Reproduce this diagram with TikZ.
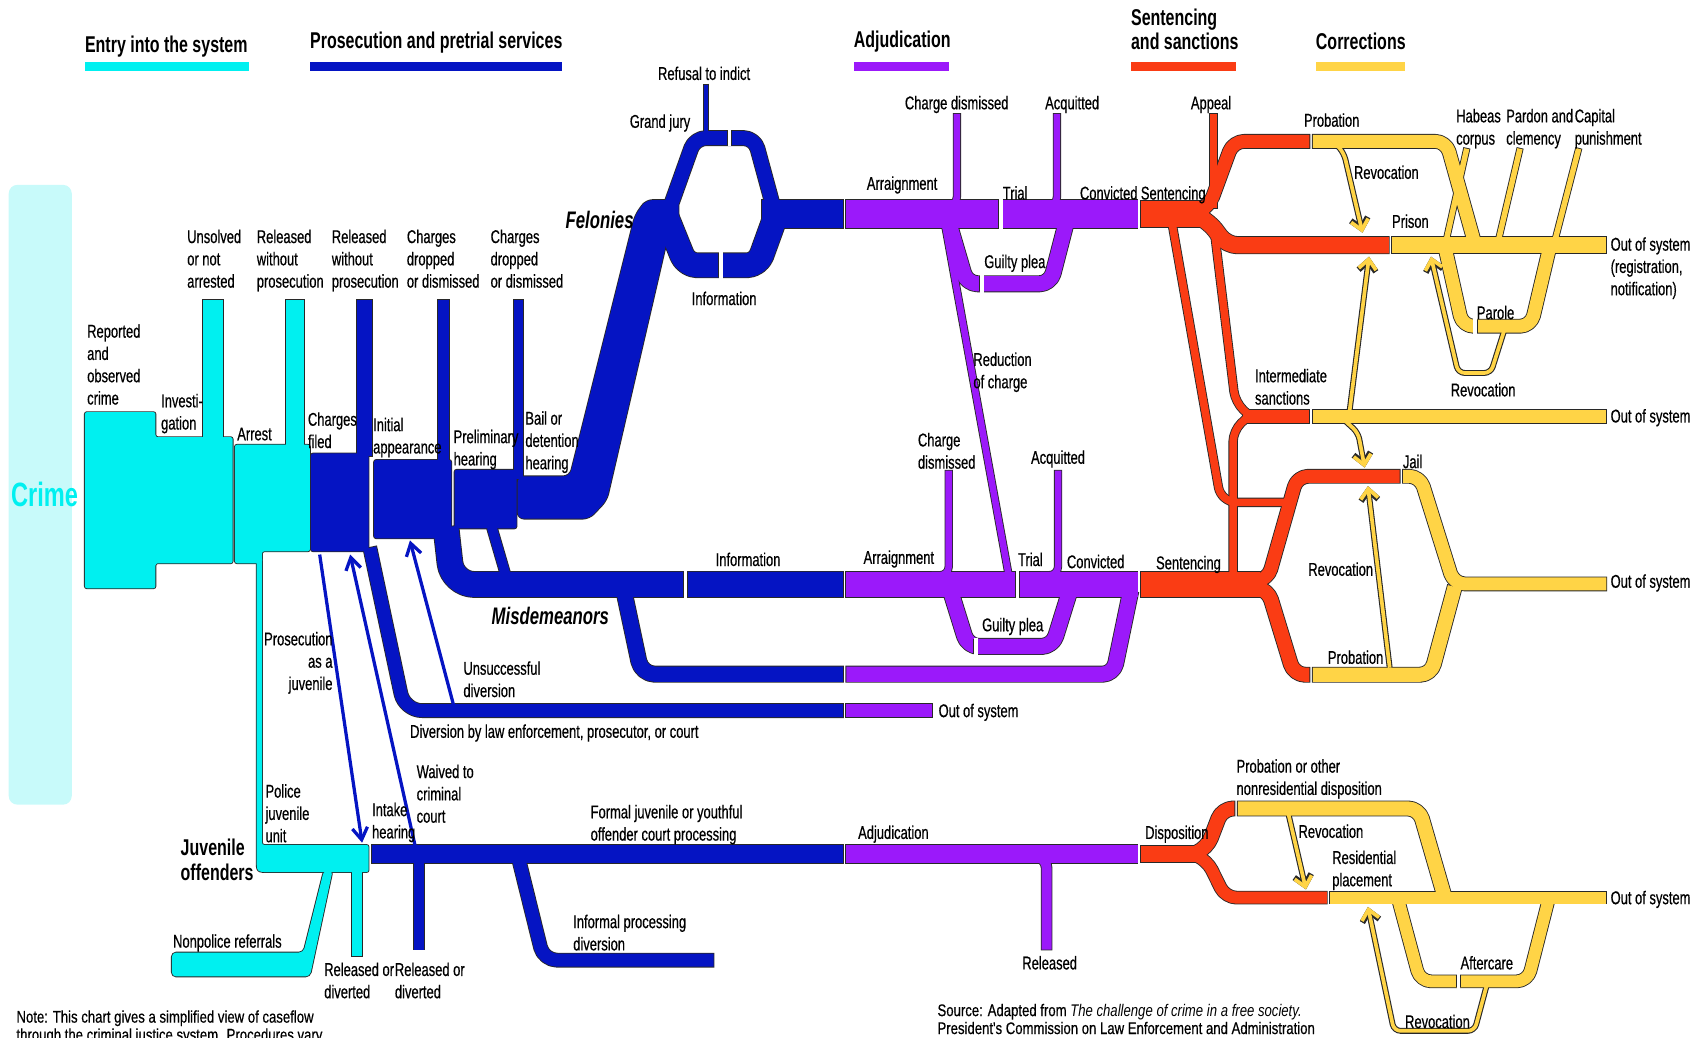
\documentclass[tikz,border=0pt]{standalone}
\usepackage{fontspec}
\setmainfont[FakeStretch=0.7, UprightFeatures={FakeBold=0.5}]{Liberation Sans}
\newfontfamily\notefont[FakeStretch=0.78, UprightFeatures={FakeBold=0.5}]{Liberation Sans}
\usetikzlibrary{arrows.meta}

\pgfdeclarelayer{background}
\pgfsetlayers{background,main}

\definecolor{entrycolor}{rgb}{0.000000, 0.941176, 0.941176}
\definecolor{crimecolor}{rgb}{0.784314, 0.980392, 0.980392}
\definecolor{prosecolor}{rgb}{0.019608, 0.078431, 0.764706}
\definecolor{adjucolor}{rgb}{0.607843, 0.098039, 0.980392}
\definecolor{sentcolor}{rgb}{0.980392, 0.235294, 0.078431}
\definecolor{corrcolor}{rgb}{1.000000, 0.831373, 0.274510}
\definecolor{rimcolor}{rgb}{0.156863, 0.156863, 0.156863}

\tikzset{
  lbl/.style={anchor=north west, inner sep=0pt, align=left, font=\fontsize{17}{20.5}\selectfont},
  head/.style={anchor=west, inner sep=0pt, align=left, font=\fontsize{21}{22}\selectfont\bfseries},
  group/.style={anchor=west, inner sep=0pt, align=left, font=\fontsize{22}{23}\selectfont\bfseries\itshape},
  note/.style={anchor=north west, inner sep=0pt, align=left, font=\notefont\fontsize{15.5}{16.5}\selectfont},
  jarrow/.style={prosecolor, line width=3pt, -{Straight Barb[length=11pt,width=14pt]}}
}

% band: outline on the background layer, colour on top
\newcommand{\flowband}[4][10]{%
  \begin{pgfonlayer}{background}
    \draw[rimcolor, line width=#3pt+1.6pt, rounded corners=#1, line join=round] #4;
  \end{pgfonlayer}
  \draw[#2, line width=#3pt, rounded corners=#1, line join=round, shorten <=0.8pt, shorten >=0.8pt] #4;}
\newcommand{\flowblock}[3][2]{%
  \begin{pgfonlayer}{background}
    \filldraw[rimcolor, line width=1.6pt, rounded corners=#1] #3;
  \end{pgfonlayer}
  \fill[#2, rounded corners=#1] #3;}
\newcommand{\revarrow}[1]{%
  \begin{pgfonlayer}{background}
    \draw[rimcolor, line width=5.4pt, rounded corners=6, -{Straight Barb[length=9pt,width=16pt]}] #1;
  \end{pgfonlayer}
  \draw[corrcolor, line width=3.4pt, rounded corners=6, -{Straight Barb[length=9pt,width=16pt]}] #1;}
\newcommand{\bandgap}[3]{%
  \draw[rimcolor, line width=4.6pt] (#1,#2) -- (#1,#3);
  \draw[white, line width=3pt] (#1,#2-1.2) -- (#1,#3+1.2);}

\begin{document}
\begin{tikzpicture}[x=1pt,y=-1pt]
\useasboundingbox (0,0) rectangle (1568,954);
\clip (0,0) rectangle (1568,954);

% legend
\node[head] (legentry) at (78,43) {Entry into the system};
\fill[entrycolor] (78,57) rectangle (229,65);
\node[head] (legpros) at (285,39) {Prosecution and pretrial services};
\fill[prosecolor] (285,57) rectangle (517,65);
\node[head] (legadj) at (785,38) {Adjudication};
\fill[adjucolor] (785,57) rectangle (873,65);
\node[head] (legsent) at (1040,27) {Sentencing\\and sanctions};
\fill[sentcolor] (1040,57) rectangle (1137,65);
\node[head] (legcorr) at (1210,38) {Corrections};
\fill[corrcolor] (1210,57) rectangle (1292,65);

% crime
\fill[crimecolor, rounded corners=8] (8,170) rectangle (66,740);
\node[anchor=west, inner sep=0pt, font=\fontsize{31}{31}\selectfont\bfseries, text=entrycolor] (crime) at (10,455) {Crime};

% entry into the system
\flowband{entrycolor}{18}{(196,275) -- (196,406)}
\flowband{entrycolor}{17}{(271.5,275) -- (271.5,412)}
\flowblock{entrycolor}{(78,379) -- (143,379) -- (143,402) -- (214,402) -- (214,518) -- (143,518) -- (143,541) -- (78,541) -- cycle}
\flowblock{entrycolor}{(216,409) -- (285,409) -- (285,507) -- (241,507) -- (241,518) -- (216,518) -- cycle}
\flowblock{entrycolor}{(236,512) -- (241,512) -- (241,777) -- (339,777) -- (339,802) -- (250,802) .. controls (236,802) .. (236,788) -- cycle}
\flowband{entrycolor}{9}{(328.5,798) -- (328.5,880)}
\flowblock[4]{entrycolor}{(158,876) -- (279,876) -- (298,800) -- (306,800) -- (285,898) -- (158,898) -- cycle}

% prosecution and pretrial services
\flowband{prosecolor}{14}{(335,275) -- (335,420)}
\flowband{prosecolor}{10}{(408,275) -- (408,426)}
\flowband{prosecolor}{8}{(477,275) -- (477,441)}
\flowblock{prosecolor}{(286,417) rectangle (339,507)}
\flowblock{prosecolor}{(344,423) rectangle (415,495)}
\flowblock{prosecolor}{(418,432) rectangle (475,486)}
\flowblock[6]{prosecolor}{(476,438) -- (524,438) -- (584,198) -- (594,184) -- (624,184) -- (624,210) -- (616,210) -- (558,460) -- (542,477) -- (476,477) -- cycle}
\flowband{prosecolor}{13}{(614,197) -- (639,127) -- (694,127) -- (713,197)}
\flowband{prosecolor}{4}{(649,77) -- (649,124)}
\flowband{prosecolor}{22}{(612,197) -- (631,244) -- (697,244) -- (714,197)}
\flowband{prosecolor}{26}{(700,197) -- (776,197)}
\flowband[20]{prosecolor}{23}{(410,484) -- (416,537.5) -- (776,537.5)}
\flowband{prosecolor}{9}{(452,484) -- (466,532)}
\flowband[12]{prosecolor}{14}{(573,540) -- (590,620) -- (776,620)}
\flowband[16]{prosecolor}{12}{(340,503) -- (372,653.5) -- (776,653.5)}
\flowband{prosecolor}{17}{(341,785.5) -- (776,785.5)}
\flowband{prosecolor}{9}{(385.5,790) -- (385.5,874)}
\flowband[12]{prosecolor}{12}{(477,790) -- (500,883) -- (657,883)}

% adjudication
\flowband{adjucolor}{26}{(777.5,197) -- (1047,197)}
\flowband[8]{adjucolor}{6}{(880,104) -- (880,189) -- (862,189)}
\flowband[8]{adjucolor}{6}{(972,104) -- (972,189) -- (955,189)}
\flowband{adjucolor}{14}{(872,203) -- (889,261) -- (966,261) -- (981,203)}
\flowband{adjucolor}{6}{(869,206) -- (928,531)}
\flowband{adjucolor}{23}{(777.5,537.5) -- (1047,537.5)}
\flowband[8]{adjucolor}{6}{(872.5,432) -- (872.5,529) -- (856,529)}
\flowband[8]{adjucolor}{6}{(973,432) -- (973,529) -- (956,529)}
\flowband{adjucolor}{14}{(874,543) -- (890,594.5) -- (968,594.5) -- (984,543)}
\flowband{adjucolor}{14}{(777.5,620) -- (1024,620) -- (1040,543)}
\flowband{adjucolor}{12}{(777.5,653.5) -- (858,653.5)}
\flowband{adjucolor}{17}{(777.5,785.5) -- (1047,785.5)}
\flowband{adjucolor}{9}{(940,788) -- (962.5,788) -- (962.5,874)}

% sentencing and sanctions
\flowband{sentcolor}{24}{(1048.5,197) -- (1112,197)}
\flowband{sentcolor}{6}{(1116,104) -- (1116,192)}
\flowband{sentcolor}{12}{(1098,197) -- (1112,190) -- (1134,130) -- (1205,130)}
\flowband{sentcolor}{15}{(1098,197) -- (1112,204) -- (1128,225.5) -- (1278,225.5)}
\flowband[14]{sentcolor}{7}{(1078,206) -- (1123,462) -- (1190,462)}
\flowband{sentcolor}{7}{(1116,206) -- (1136,370) -- (1150,383)}
\flowband{sentcolor}{7}{(1134,530) -- (1134,396) -- (1148,383)}
\flowband{sentcolor}{12}{(1142,383) -- (1205,383)}
\flowband{sentcolor}{23}{(1048.5,537.5) -- (1160,537.5)}
\flowband{sentcolor}{12}{(1152,535) -- (1166,533) -- (1193,438) -- (1288,438)}
\flowband{sentcolor}{13}{(1152,540) -- (1166,542) -- (1190,620.5) -- (1205,620.5)}
\flowband{sentcolor}{15}{(1048.5,785.5) -- (1108,785.5)}
\flowband{sentcolor}{13}{(1098,785) -- (1110,780) -- (1124,743.5) -- (1136,743.5)}
\flowband{sentcolor}{11}{(1098,786) -- (1110,791) -- (1127,825.5) -- (1221,825.5)}

% corrections
\flowband{corrcolor}{12}{(1206.5,130) -- (1330,130) -- (1356,223)}
\flowband{corrcolor}{15}{(1279.5,225.5) -- (1478,225.5)}
\flowband{corrcolor}{5}{(1349,136) -- (1330,221)}
\flowband{corrcolor}{5}{(1398,136) -- (1378,221)}
\flowband{corrcolor}{5}{(1452,136) -- (1430,221)}
\flowband{corrcolor}{12}{(1329,228) -- (1345,300) -- (1408,300) -- (1425,228)}
\flowband{corrcolor}{12}{(1206.5,383) -- (1478,383)}
\flowband{corrcolor}{12}{(1289.5,438) -- (1306,438) -- (1337,537) -- (1478,537)}
\flowband{corrcolor}{13}{(1206.5,620.5) -- (1316,620.5) -- (1338,539)}
\flowband{corrcolor}{13}{(1137.5,743.5) -- (1305,743.5) -- (1328,823)}
\flowband{corrcolor}{11}{(1222.5,825.5) -- (1478,825.5)}
\flowband{corrcolor}{11}{(1286,828) -- (1306,902.5) -- (1405,902.5) -- (1424,828)}

% revocations
\revarrow{(1230,134) -- (1236,141) -- (1253,214)}
\revarrow{(1241,379) -- (1259,236)}
\revarrow{(1237,387) -- (1249,398) -- (1255,430)}
\revarrow{(1278,614) -- (1258,447)}
\revarrow{(1383,305) -- (1371,343) -- (1341,343) -- (1316,236)}
\revarrow{(1185,749) -- (1201,818)}
\revarrow{(1367,907) -- (1356,948) -- (1282,948) -- (1258,834)}

% gaps
\bandgap{671}{120.5}{133.5}
\bandgap{663}{233}{255}
\bandgap{630.5}{526}{549}
\bandgap{920.5}{184}{210}
\bandgap{903}{254}{268}
\bandgap{935.5}{526}{549}
\bandgap{897.5}{587.5}{601.5}
\bandgap{1356.5}{294}{306}
\bandgap{1341}{897}{908}

% juvenile and diversion arrows
\draw[jarrow] (294,510) -- (333,775);
\draw[jarrow] (382,779) -- (322,510);
\draw[jarrow] (417,648) -- (377,497);

% labels
\node[lbl] (unsolved) at (172,211) {Unsolved\\or not\\arrested};
\node[lbl] (relpolice) at (236,211) {Released\\without\\prosecution};
\node[lbl] (relcharge) at (305,211) {Released\\without\\prosecution};
\node[lbl] (dropinit) at (374,211) {Charges\\dropped\\or dismissed};
\node[lbl] (dropprelim) at (451,211) {Charges\\dropped\\or dismissed};
\node[lbl] (reported) at (80,298) {Reported\\and\\observed\\crime};
\node[lbl] (investigation) at (148,362) {Investi-\\gation};
\node[lbl] (arrest) at (218,393) {Arrest};
\node[lbl] (filed) at (283,379) {Charges\\filed};
\node[lbl] (initial) at (343,384) {Initial\\appearance};
\node[lbl] (prelim) at (417,395) {Preliminary\\hearing};
\node[lbl] (bail) at (483,378) {Bail or\\detention\\hearing};
\node[group] (felonies) at (520,202) {Felonies};
\node[lbl] (grandjury) at (579,105) {Grand jury};
\node[lbl] (refusal) at (605,61) {Refusal to indict};
\node[lbl] (felinfo) at (636,268) {Information};
\node[lbl] (felarraign) at (797,162) {Arraignment};
\node[lbl] (feldismiss) at (832,88) {Charge dismissed};
\node[lbl] (felacquit) at (961,88) {Acquitted};
\node[lbl] (feltrial) at (922,171) {Trial};
\node[lbl] (felconvict) at (993,171) {Convicted};
\node[lbl] (felplea) at (905,234) {Guilty plea};
\node[lbl] (felsentence) at (1049,171) {Sentencing};
\node[lbl] (appeal) at (1095,88) {Appeal};
\node[lbl] (felprob) at (1199,104) {Probation};
\node[lbl] (felrevoke) at (1245,152) {Revocation};
\node[lbl] (prison) at (1280,197) {Prison};
\node[lbl] (habeas) at (1339,100) {Habeas\\corpus};
\node[lbl] (pardon) at (1385,100) {Pardon and\\clemency};
\node[lbl] (capital) at (1448,100) {Capital\\punishment};
\node[lbl] (outprison) at (1481,218) {Out of system\\(registration,\\notification)};
\node[lbl] (parole) at (1358,281) {Parole};
\node[lbl] (parrevoke) at (1334,352) {Revocation};
\node[lbl] (intermediate) at (1154,339) {Intermediate\\sanctions};
\node[lbl] (outinter) at (1481,376) {Out of system};
\node[lbl] (jail) at (1290,418) {Jail};
\node[lbl] (jailrevoke) at (1203,517) {Revocation};
\node[lbl] (outjail) at (1481,528) {Out of system};
\node[lbl] (missentence) at (1063,511) {Sentencing};
\node[lbl] (misprob) at (1221,598) {Probation};
\node[lbl] (reduction) at (895,324) {Reduction\\of charge};
\node[lbl] (misdismiss) at (844,398) {Charge\\dismissed};
\node[lbl] (misacquit) at (948,414) {Acquitted};
\node[lbl] (misarraign) at (794,506) {Arraignment};
\node[lbl] (mistrial) at (936,508) {Trial};
\node[lbl] (misconvict) at (981,510) {Convicted};
\node[lbl] (misplea) at (903,568) {Guilty plea};
\node[lbl] (misinfo) at (658,508) {Information};
\node[group] (misdemeanors) at (452,566) {Misdemeanors};
\node[lbl] (unsuccessful) at (426,608) {Unsuccessful\\diversion};
\node[lbl, anchor=north east, align=right] (asjuvenile) at (306,581) {Prosecution\\as a\\juvenile};
\node[lbl] (outdiv) at (863,647) {Out of system};
\node[lbl] (diversion) at (377,666) {Diversion by law enforcement, prosecutor, or court};
\node[lbl] (waived) at (383,703) {Waived to\\criminal\\court};
\node[lbl] (police) at (244,721) {Police\\juvenile\\unit};
\node[lbl] (intake) at (342,738) {Intake\\hearing};
\node[anchor=north west, inner sep=0pt, align=left, font=\fontsize{21}{23}\selectfont\bfseries] (juvenile) at (166,771) {Juvenile\\offenders};
\node[lbl] (formal) at (543,740) {Formal juvenile or youthful\\offender court processing};
\node[lbl] (juvadjud) at (789,759) {Adjudication};
\node[lbl] (disposition) at (1053,759) {Disposition};
\node[lbl] (juvprob) at (1137,698) {Probation or other\\nonresidential disposition};
\node[lbl] (juvrevoke) at (1194,758) {Revocation};
\node[lbl] (residential) at (1225,782) {Residential\\placement};
\node[lbl] (outjuv) at (1481,819) {Out of system};
\node[lbl] (nonpolice) at (159,859) {Nonpolice referrals};
\node[lbl] (relintake) at (298,885) {Released or\\diverted};
\node[lbl] (relwaive) at (363,885) {Released or\\diverted};
\node[lbl] (informal) at (527,841) {Informal processing\\diversion};
\node[lbl] (released) at (940,879) {Released};
\node[lbl] (aftercare) at (1343,879) {Aftercare};
\node[lbl] (aftrevoke) at (1292,933) {Revocation};
\node[note] (chartnote) at (15,929) {Note: This chart gives a simplified view of caseflow\\through the criminal justice system. Procedures vary};
\node[note] (source) at (862,923) {Source: Adapted from \textit{The challenge of crime in a free society.}\\President's Commission on Law Enforcement and Administration};
\end{tikzpicture}
\end{document}
